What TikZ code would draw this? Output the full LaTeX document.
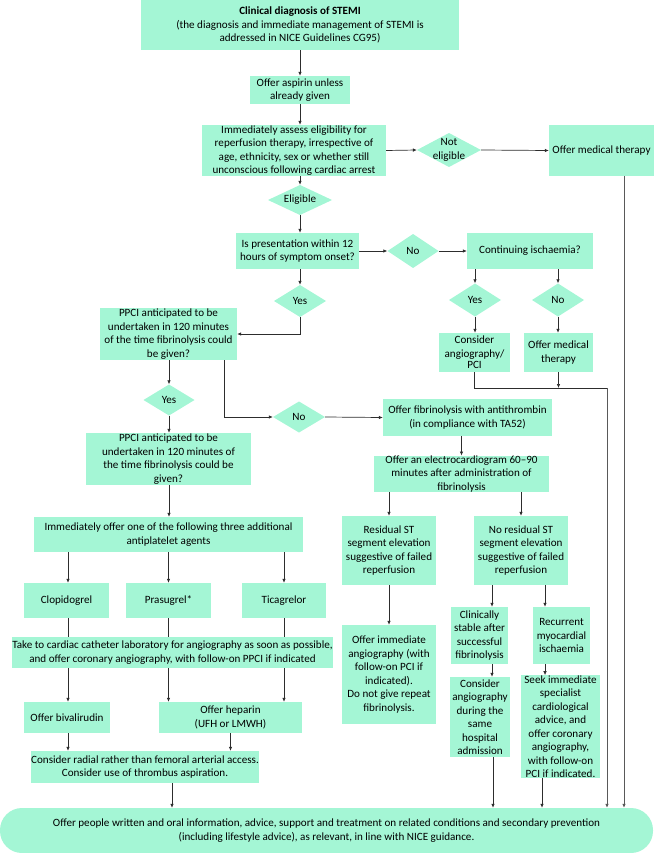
\documentclass[tikz,border=0pt]{standalone}
\usepackage{fontspec}
\setmainfont{Carlito}
\usetikzlibrary{arrows.meta,calc}
\definecolor{mint}{RGB}{164,246,213}
\definecolor{ln}{RGB}{45,45,45}
\newcommand\flowfont{\fontsize{11.1}{13.5}\selectfont}
\begin{document}
\begin{tikzpicture}[x=1pt,y=-1pt,
  box/.style={rectangle, fill=mint, inner sep=0pt, align=center, font=\flowfont},
  diam/.style={rectangle, inner sep=0pt, align=center, font=\flowfont,
    path picture={\fill[mint] (path picture bounding box.north) -- (path picture bounding box.east) -- (path picture bounding box.south) -- (path picture bounding box.west) -- cycle;}},
  arr/.style={draw=ln, line width=0.7pt, -{Latex[length=4pt,width=3.6pt]}},
  ln/.style={draw=ln, line width=0.7pt},
  longln/.style={draw=gray!70!black, line width=0.8pt, -{Latex[length=4pt,width=3.6pt]}}]
\useasboundingbox (0,0) rectangle (654,853);

% ---------- nodes ----------
\node[box, minimum width=318pt, minimum height=50pt] (top) at (300,25)
  {\textbf{Clinical diagnosis of STEMI}\\(the diagnosis and immediate management of STEMI is\\addressed in NICE Guidelines CG95)};
\node[box, minimum width=100pt, minimum height=28pt] (asp) at (300,90)
  {Offer aspirin unless\\already given};
\node[box, minimum width=184pt, minimum height=51pt] (assess) at (294,150.5)
  {Immediately assess eligibility for\\reperfusion therapy, irrespective of\\age, ethnicity, sex or whether still\\unconscious following cardiac arrest};
\node[diam, minimum width=64pt, minimum height=30pt] (elig) at (300,200) {Eligible};
\node[diam, minimum width=64pt, minimum height=34pt] (noteli) at (449,150) {Not\\eligible};
\node[box, minimum width=105pt, minimum height=51pt] (med) at (601.5,150.5) {Offer medical therapy};
\node[box, minimum width=123pt, minimum height=36pt] (pres) at (297.5,251)
  {Is presentation within 12\\hours of symptom onset?};
\node[diam, minimum width=51pt, minimum height=34pt] (no1) at (413,251) {No};
\node[box, minimum width=126pt, minimum height=36pt] (cont) at (530,251) {Continuing ischaemia?};
\node[diam, minimum width=52pt, minimum height=33pt] (yes2) at (475,300) {Yes};
\node[diam, minimum width=52pt, minimum height=33pt] (no2) at (558,300) {No};
\node[box, minimum width=71pt, minimum height=39pt] (cpci) at (474.5,352.5)
  {Consider\\angiography/\\[-2pt]PCI};
\node[box, minimum width=69pt, minimum height=39pt] (med2) at (558.5,352.5)
  {Offer medical\\therapy};
\node[diam, minimum width=52pt, minimum height=32pt] (yes1) at (300,301) {Yes};
\node[box, minimum width=137pt, minimum height=52pt] (ppci1) at (168.5,334)
  {PPCI anticipated to be\\undertaken in 120 minutes\\of the time fibrinolysis could\\be given?};
\node[diam, minimum width=51pt, minimum height=31pt] (yes3) at (169,400) {Yes};
\node[box, minimum width=165pt, minimum height=52pt] (ppci2) at (168.5,459)
  {PPCI anticipated to be\\undertaken in 120 minutes of\\the time fibrinolysis could be\\given?};
\node[diam, minimum width=52pt, minimum height=31pt] (no3) at (299,417) {No};
\node[box, minimum width=169pt, minimum height=37pt] (fib) at (467.5,417.5)
  {Offer fibrinolysis with antithrombin\\(in compliance with TA52)};
\node[box, minimum width=175pt, minimum height=36pt] (ecg) at (461.5,474)
  {Offer an electrocardiogram 60–90\\minutes after administration of\\fibrinolysis};
\node[box, minimum width=94pt, minimum height=69pt] (resid) at (389,550.5)
  {Residual ST\\segment elevation\\suggestive of failed\\reperfusion};
\node[box, minimum width=94pt, minimum height=69pt] (noresid) at (521,550.5)
  {No residual ST\\segment elevation\\suggestive of failed\\reperfusion};
\node[box, minimum width=94pt, minimum height=99pt] (offimm) at (389,674.5)
  {Offer immediate\\angiography (with\\follow-on PCI if\\indicated).\\Do not give repeat\\fibrinolysis.};
\node[box, minimum width=57pt, minimum height=57pt] (stable) at (479.5,635.5)
  {Clinically\\stable after\\successful\\fibrinolysis};
\node[box, minimum width=57pt, minimum height=57pt] (recur) at (561.5,635.5)
  {Recurrent\\myocardial\\ischaemia};
\node[box, minimum width=60pt, minimum height=80pt] (cang) at (480,717)
  {Consider\\angiography\\during the\\same\\hospital\\admission};
\node[box, minimum width=79pt, minimum height=99pt] (seek) at (560.5,726.5)
  {Seek immediate\\specialist\\cardiological\\advice, and\\offer coronary\\angiography,\\with follow-on\\PCI if indicated.};
\node[box, minimum width=269pt, minimum height=35pt] (imm) at (168.5,534.5)
  {Immediately offer one of the following three additional\\antiplatelet agents};
\node[box, minimum width=85pt, minimum height=35pt] (clop) at (66.5,600.5) {Clopidogrel};
\node[box, minimum width=85pt, minimum height=35pt] (pras) at (168.5,600.5) {Prasugrel*};
\node[box, minimum width=84pt, minimum height=35pt] (tica) at (284,600.5) {Ticagrelor};
\node[box, minimum width=315pt, minimum height=31pt] (take) at (172.5,652.5)
  {Take to cardiac catheter laboratory for angiography as soon as possible,\\and offer coronary angiography, with follow-on PPCI if indicated};
\node[box, minimum width=86pt, minimum height=31pt] (bival) at (67,717.5) {Offer bivalirudin};
\node[box, minimum width=143pt, minimum height=31pt] (hep) at (230.5,717.5)
  {Offer heparin\\(UFH or LMWH)};
\node[box, minimum width=226pt, minimum height=32pt] (radial) at (145,767)
  {Consider radial rather than femoral arterial access.\\Consider use of thrombus aspiration.};
\node[box, rounded corners=22pt, minimum width=653pt, minimum height=45pt] (final) at (326.5,830.5)
  {Offer people written and oral information, advice, support and treatment on related conditions and secondary prevention\\(including lifestyle advice), as relevant, in line with NICE guidance.};

% ---------- helper coordinates ----------
\coordinate (jA) at (607,388);
\coordinate (xMed) at (624,176);
\coordinate (xCl) at (492,0);
\coordinate (xRe) at (545,0);
\coordinate (xP) at (224,0);

% ---------- connectors ----------
\draw[arr] (top) -- (asp);
\draw[arr] (asp) -- (assess.north -| asp);
\draw[arr] (assess.south -| elig) -- (elig.north);
\draw[arr] (assess.east) -- (noteli.west);
\draw[arr] (noteli.east) -- (med.west);
\draw[longln] (xMed) -- (xMed |- final.north);
\draw[arr] (elig.south) -- (elig.south |- pres.north);
\draw[arr] (pres.south -| yes1) -- (yes1.north);
\draw[arr] (pres.east) -- (no1.west);
\draw[arr] (no1.east) -- (cont.west);
\draw[arr] (yes2.north |- cont.south) -- (yes2.north);
\draw[arr] (no2.north |- cont.south) -- (no2.north);
\draw[arr] (yes2.south) -- (yes2.south |- cpci.north);
\draw[arr] (no2.south) -- (no2.south |- med2.north);
\draw[ln] (cpci.south) |- (jA);
\draw[longln] (jA) -- (jA |- final.north);
\draw[arr] (med2.south) -- (med2.south |- jA);
\draw[arr] (yes1.south) |- (ppci1.east);
\draw[arr] (ppci1.south -| yes3) -- (yes3.north);
\draw[arr] (xP |- ppci1.south) |- (no3.west);
\draw[arr] (no3.east) -- (fib.west);
\draw[arr] (yes3.south) -- (yes3.south |- ppci2.north);
\draw[arr] (ecg.north |- fib.south) -- (ecg.north);
\draw[arr] (resid.north |- ecg.south) -- (resid.north);
\draw[arr] (noresid.north |- ecg.south) -- (noresid.north);
\draw[arr] (resid.south) -- (offimm.north);
\draw[arr] (xCl |- noresid.south) -- (xCl |- stable.north);
\draw[arr] (xRe |- noresid.south) -- (xRe |- recur.north);
\draw[arr] (xCl |- stable.south) -- (xCl |- cang.north);
\draw[arr] (xRe |- recur.south) -- (xRe |- seek.north);
\draw[arr] ([xshift=13pt]cang.south) -- ([xshift=13pt]cang.south |- final.north);
\draw[arr] ([xshift=-18.5pt]seek.south) -- ([xshift=-18.5pt]seek.south |- final.north);
\draw[arr] (ppci2.south -| yes3) -- (yes3 |- imm.north);
\draw[arr] ([xshift=1.5pt]clop.north |- imm.south) -- ([xshift=1.5pt]clop.north);
\draw[arr] (pras.north |- imm.south) -- (pras.north);
\draw[arr] (tica.north |- imm.south) -- (tica.north);
\draw[ln] ([xshift=1.5pt]clop.south) -- ([xshift=1.5pt]clop.south |- take.north);
\draw[ln] (pras.south) -- (pras.south |- take.north);
\draw[ln] (tica.south) -- (tica.south |- take.north);
\draw[arr] ([xshift=1.5pt]clop.south |- take.south) -- ([xshift=1.5pt]clop.south |- bival.north);
\draw[arr] (pras.south |- take.south) -- (pras.south |- hep.north);
\draw[arr] (tica.south |- take.south) -- (tica.south |- hep.north);
\draw[arr] ([xshift=1pt]bival.south) -- ([xshift=1pt]bival.south |- radial.north);
\draw[arr] (hep.south) -- (hep.south |- radial.north);
\draw[arr] ([xshift=27pt]radial.south) -- ([xshift=27pt]radial.south |- final.north);
\end{tikzpicture}
\end{document}
